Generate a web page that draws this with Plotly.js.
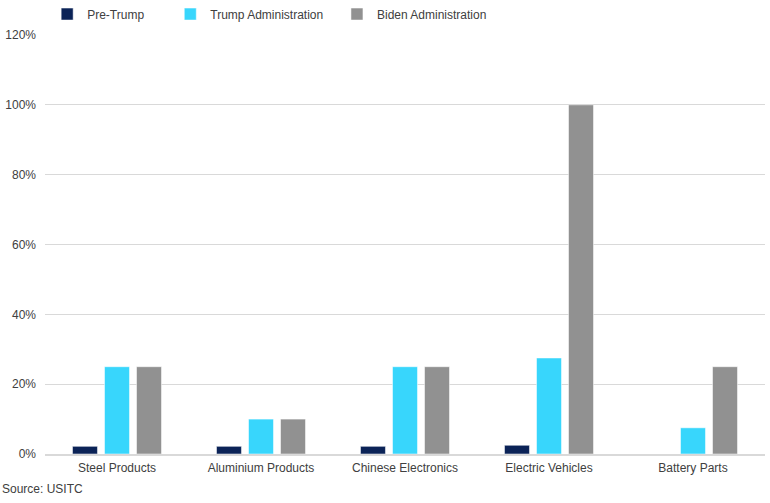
<!DOCTYPE html>
<html>
<head>
<meta charset="utf-8">
<script src="https://cdn.plot.ly/plotly-3.0.1.min.js"></script>
<style>html,body{margin:0;padding:0;background:#fff;}#chart{width:770px;height:503px;}</style>
</head>
<body>
<div id="chart"></div>
<script>
const categories = ["Steel Products", "Aluminium Products", "Chinese Electronics", "Electric Vehicles", "Battery Parts"];
const preTrump = [2.2, 2.2, 2.2, 2.5, null];
const trumpAdmin = [25, 10, 25, 27.5, 7.5];
const bidenAdmin = [25, 10, 25, 100, 25];
const yTicks = [0, 20, 40, 60, 80, 100, 120];
const yTickLabels = ["0%", "20%", "40%", "60%", "80%", "100%", "120%"];

const font = {family: "Liberation Sans, Arial, sans-serif", size: 12, color: "#404040"};
const lineStyle = {color: "rgba(255,255,255,0.5)", width: 1};

const traces = [
  {type: "bar", name: "Pre-Trump", x: categories, y: preTrump, marker: {color: "#0B2357", line: lineStyle}, legend: "legend"},
  {type: "bar", name: "Trump Administration", x: categories, y: trumpAdmin, marker: {color: "#38D6FC", line: lineStyle}, legend: "legend2"},
  {type: "bar", name: "Biden Administration", x: categories, y: bidenAdmin, marker: {color: "#919191", line: lineStyle}, legend: "legend3"}
];

const legendBase = {orientation: "h", yanchor: "middle", y: 1.05, xanchor: "left", font: font, bgcolor: "rgba(0,0,0,0)", itemwidth: 30};

const layout = {
  width: 770, height: 503,
  margin: {l: 45, r: 5, t: 35, b: 49, autoexpand: false},
  paper_bgcolor: "#fff", plot_bgcolor: "#fff",
  font: font,
  barmode: "group",
  bargap: 0.333,
  bargroupgap: 0.22,
  showlegend: true,
  legend: Object.assign({}, legendBase, {x: 0.003}),
  legend2: Object.assign({}, legendBase, {x: 0.174}),
  legend3: Object.assign({}, legendBase, {x: 0.4055}),
  xaxis: {tickfont: font, showgrid: false, showline: true, linecolor: "#D9D9D9", linewidth: 2, ticks: "", ticklabelstandoff: 2, fixedrange: true},
  yaxis: {range: [0, 120], tickvals: yTicks, ticktext: yTickLabels, tickfont: font, showgrid: true, gridcolor: "#D9D9D9", gridwidth: 1, zeroline: false, ticks: "", ticklen: 0, ticklabelstandoff: 8, fixedrange: true},
  annotations: [{text: "Source: USITC", xref: "paper", yref: "paper", x: -0.0625, y: -0.083, xanchor: "left", yanchor: "middle", showarrow: false, font: font}]
};

Plotly.newPlot("chart", traces, layout, {displayModeBar: false, staticPlot: true});
</script>
</body>
</html>
